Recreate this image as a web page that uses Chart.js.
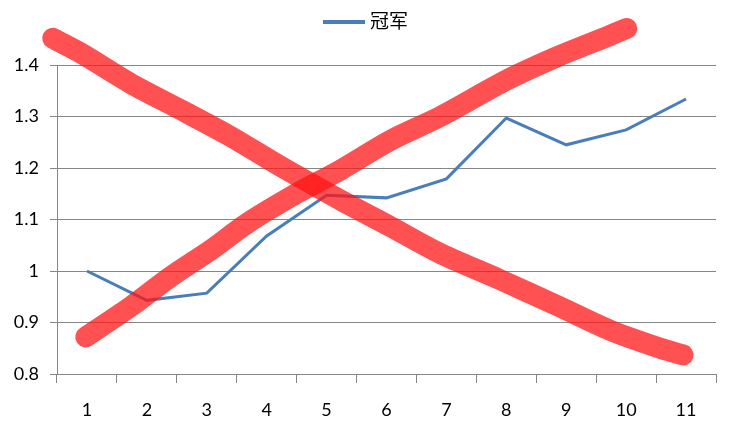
<!DOCTYPE html>
<html>
<head>
<meta charset="utf-8">
<script src="https://cdn.jsdelivr.net/npm/chart.js@4"></script>
<style>
  html, body { margin: 0; padding: 0; background: #fff; }
  #wrap { width: 731px; height: 434px; }
</style>
</head>
<body>
<div id="wrap"><canvas id="c" width="731" height="434"></canvas></div>
<script>
// Category labels
const categories = ['1','2','3','4','5','6','7','8','9','10','11'];
// Series "冠军"
const seriesName = '冠军';
const championValues = [1.0, 0.943, 0.957, 1.068, 1.147, 1.142, 1.179, 1.297, 1.245, 1.274, 1.334];
// Y tick values
const yTicks = [0.8, 0.9, 1.0, 1.1, 1.2, 1.3, 1.4];
// Hand-drawn red cross strokes (category index position, value)
const strokeDownX = [-0.572, -0.1, 0.733, 1.567, 2.4, 3.233, 4.23, 5.07, 5.9, 6.9, 7.9, 8.73, 9.57, 9.95];
const strokeDownY = [1.452, 1.423, 1.364, 1.313, 1.261, 1.203, 1.138, 1.086, 1.034, 0.983, 0.930, 0.885, 0.850, 0.837];
const strokeUpX = [-0.02, 0.733, 1.4, 2.07, 2.68, 3.51, 4.23, 5.07, 5.9, 7.01, 7.85, 8.68, 9.01];
const strokeUpY = [0.872, 0.931, 0.989, 1.041, 1.093, 1.151, 1.196, 1.254, 1.300, 1.371, 1.416, 1.455, 1.471];

const toPts = (xs, ys) => xs.map((x, i) => ({ x: x, y: ys[i] }));
const FONT = 'Lato, "Noto Sans CJK SC", sans-serif';
const red = 'rgba(255, 20, 20, 0.74)';
const blue = '#4a7ebb';

// Simple top legend drawn with the dataset's own label and colour
const topLegend = {
  id: 'topLegend',
  afterDraw(chart) {
    const ds = chart.data.datasets[0];
    const ctx = chart.ctx;
    ctx.save();
    ctx.font = '19px ' + FONT;
    const tw = ctx.measureText(ds.label).width;
    const lineW = 42, gap = 5;
    const total = lineW + gap + tw;
    const cx = chart.width / 2;
    const x0 = cx - total / 2;
    const y = 22;
    ctx.strokeStyle = ds.borderColor;
    ctx.lineWidth = 4;
    ctx.lineCap = 'butt';
    ctx.beginPath();
    ctx.moveTo(x0, y);
    ctx.lineTo(x0 + lineW, y);
    ctx.stroke();
    ctx.fillStyle = '#000';
    ctx.textBaseline = 'middle';
    ctx.textAlign = 'left';
    ctx.fillText(ds.label, x0 + lineW + gap, y);
    ctx.restore();
  }
};

const strokeStyle = {
  borderColor: red,
  borderWidth: 21,
  borderCapStyle: 'round',
  borderJoinStyle: 'round',
  pointRadius: 0,
  tension: 0.3,
  clip: false,
  xAxisID: 'xr',
  order: 1
};

new Chart(document.getElementById('c'), {
  type: 'line',
  data: {
    labels: categories,
    datasets: [
      {
        label: seriesName,
        data: championValues,
        borderColor: blue,
        backgroundColor: blue,
        borderWidth: 3,
        pointRadius: 0,
        tension: 0,
        xAxisID: 'x',
        order: 2
      },
      Object.assign({ label: 'strokeDown', data: toPts(strokeDownX, strokeDownY) }, strokeStyle),
      Object.assign({ label: 'strokeUp', data: toPts(strokeUpX, strokeUpY) }, strokeStyle)
    ]
  },
  options: {
    responsive: false,
    animation: false,
    devicePixelRatio: 1,
    layout: { padding: { left: 0, right: 15, top: 65, bottom: 0 } },
    plugins: {
      tooltip: { enabled: false },
      legend: { display: false }
    },
    scales: {
      x: {
        type: 'category',
        offset: true,
        grid: {
          offset: true,
          drawOnChartArea: false,
          drawTicks: true,
          tickLength: 9,
          color: '#868686'
        },
        border: { color: '#868686', width: 1 },
        ticks: {
          color: '#000',
          padding: 16,
          font: { family: FONT, size: 18 },
          maxRotation: 0
        },
        afterFit: (s) => { s.height = 60; }
      },
      xr: {
        type: 'linear',
        display: false,
        min: -0.5,
        max: 10.5
      },
      y: {
        min: 0.8,
        max: 1.4,
        afterBuildTicks: (s) => { s.ticks = yTicks.map(v => ({ value: v })); },
        grid: {
          color: '#868686',
          tickLength: 7,
          drawTicks: true
        },
        border: { color: '#868686', width: 1 },
        ticks: {
          color: '#000',
          padding: 11,
          font: { family: FONT, size: 18 },
          callback: (v) => String(Math.round(v * 10) / 10)
        },
        afterFit: (s) => { s.width = 57; }
      }
    }
  },
  plugins: [topLegend]
});
</script>
</body>
</html>
